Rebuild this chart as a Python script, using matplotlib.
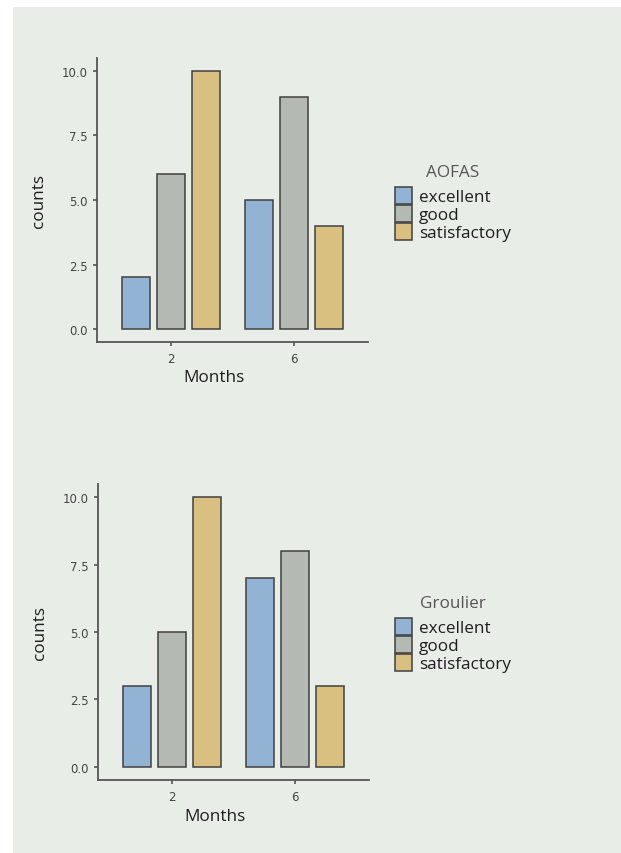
import numpy as np
import matplotlib
matplotlib.use("Agg")
import matplotlib.pyplot as plt
from matplotlib.patches import Patch, Rectangle

months = [2, 6]
levels = ["excellent", "good", "satisfactory"]
aofas_counts = {"excellent": [2, 5], "good": [6, 9], "satisfactory": [10, 4]}
groulier_counts = {"excellent": [3, 7], "good": [5, 8], "satisfactory": [10, 3]}
yticks = [0.0, 2.5, 5.0, 7.5, 10.0]

colors = {"excellent": "#93b3d4", "good": "#b4b9b3", "satisfactory": "#d9bf80"}
bg = "#e9ede8"
edge = "#404040"
text_font = ["Open Sans", "DejaVu Sans"]

fig = plt.figure(figsize=(6.21, 8.54), dpi=100)
fig.patch.set_facecolor("white")
fig.patches.append(Rectangle((13 / 621, 0), 1 - 13 / 621, 1 - 8 / 854,
                             transform=fig.transFigure, facecolor=bg,
                             edgecolor="none", zorder=-10))


def draw(rect, counts, title, leg_xy):
    ax = fig.add_axes(rect)
    ax.set_facecolor("none")
    x = np.array(months, dtype=float)
    step = 1.14
    for i, lv in enumerate(levels):
        ax.bar(x + (i - 1) * step, counts[lv], width=0.92,
               color=colors[lv], edgecolor=edge, linewidth=1.1)
    ax.set_xlim(-0.41, 8.41)
    ax.set_ylim(-0.5, 10.5)
    ax.set_xticks(months)
    ax.set_xticklabels([str(m) for m in months])
    ax.set_yticks(yticks)
    ax.set_yticklabels(["%.1f" % v for v in yticks])
    for s in ["top", "right"]:
        ax.spines[s].set_visible(False)
    for s in ["left", "bottom"]:
        ax.spines[s].set_color("#555555")
        ax.spines[s].set_linewidth(1.3)
    ax.tick_params(length=3, width=1.2, color="#555555", labelsize=8.5,
                   labelcolor="#444444", pad=4)
    ax.set_xlabel("Months", fontsize=12.3, family=text_font, color="#1e1e1e")
    ax.set_ylabel("counts", fontsize=12.3, family=text_font, color="#1e1e1e")
    ax.xaxis.set_label_coords(0.43, -0.095)
    ax.yaxis.set_label_coords(-0.185, 0.5)

    handles = [Patch(facecolor=colors[lv], edgecolor=edge, linewidth=1.1)
               for lv in levels]
    leg = fig.legend(handles, levels, loc="upper left",
                     bbox_to_anchor=leg_xy, frameon=False,
                     prop={"family": text_font, "size": 12.3},
                     title=title,
                     title_fontproperties={"family": text_font, "size": 12.3},
                     handlelength=1.0, handleheight=1.12, labelspacing=0.0,
                     handletextpad=0.4, borderpad=0, borderaxespad=0)
    leg._legend_box.sep = 5
    leg.get_title().set_color("#555555")
    for t in leg.get_texts():
        t.set_color("#1e1e1e")
    return ax


draw([97 / 621, 511 / 854, 271 / 621, 284 / 854], aofas_counts, "AOFAS",
     (395 / 621, 1 - 165 / 854))
draw([98 / 621, 73 / 854, 271 / 621, 296 / 854], groulier_counts, "Groulier",
     (395 / 621, 1 - 596 / 854))

fig.savefig("out.png", dpi=100, facecolor=fig.get_facecolor())
